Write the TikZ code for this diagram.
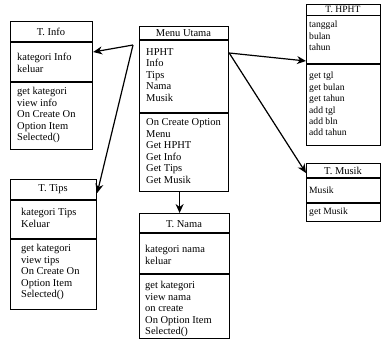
\documentclass[tikz,border=0pt]{standalone}
\usepackage{fontspec}
\setmainfont{Liberation Serif}
\usetikzlibrary{arrows.meta,calc}
\tikzset{
  classbox/.style={draw, line width=1.2pt, inner sep=0pt, anchor=north west},
  txt/.style={inner sep=0pt, anchor=north west, align=left, font=\fontsize{10.5}{11.6}\selectfont},
  stxt/.style={inner sep=0pt, anchor=north west, align=left, font=\fontsize{9.6}{11.4}\selectfont},
  ttl/.style={inner sep=0pt, anchor=center, font=\fontsize{10.5}{11.6}\selectfont},
  sttl/.style={inner sep=0pt, anchor=center, font=\fontsize{9.6}{11.4}\selectfont},
  divline/.style={line width=1.1pt},
  conn/.style={line width=1.2pt, -{Stealth[length=9pt,width=8pt]}}
}
\begin{document}
\begin{tikzpicture}[x=1pt,y=-1pt]
\useasboundingbox (0,0) rectangle (381,340);
\fill[white] (0,0) rectangle (381,340);

% T. Info
\node[classbox, minimum width=82pt, minimum height=128pt] (info) at (10,21) {};
\draw[divline] (10,42) -- (92,42);
\draw[divline] (10,82) -- (92,82);
\node[ttl] (infot) at (51,32) {T. Info};
\node[txt] (infoa) at (17,53) {kategori Info\\keluar};
\node[txt] (infoo) at (17,87) {get kategori\\view info\\On Create On\\Option Item\\Selected()};

% Menu Utama
\node[classbox, minimum width=89pt, minimum height=165pt] (menu) at (139,26) {};
\draw[divline] (139,40) -- (228,40);
\draw[divline] (139,113) -- (228,113);
\node[ttl] (menut) at (183.5,33.3) {Menu Utama};
\node[txt] (menua) at (146,48) {HPHT\\Info\\Tips\\Nama\\Musik};
\node[txt] (menuo) at (146,118.3) {On Create Option\\Menu\\Get HPHT\\Get Info\\Get Tips\\Get Musik};

% T. HPHT
\node[classbox, minimum width=74pt, minimum height=141pt] (hpht) at (306,4) {};
\draw[divline] (306,15.5) -- (380,15.5);
\draw[divline] (306,64) -- (380,64);
\node[sttl] (hphtt) at (343,9.8) {T. HPHT};
\node[stxt] (hphta) at (309,21) {tanggal\\bulan\\tahun};
\node[stxt] (hphto) at (309,72) {get tgl\\get bulan\\get tahun\\add tgl\\add bln\\add tahun};

% T. Musik
\node[classbox, minimum width=74pt, minimum height=58pt] (musik) at (306,163) {};
\draw[divline] (306,178) -- (380,178);
\draw[divline] (306,203) -- (380,203);
\node[ttl] (musikt) at (343,170.5) {T. Musik};
\node[stxt] (musika) at (309,187) {Musik};
\node[stxt] (musiko) at (309,208) {get Musik};

% T. Tips
\node[classbox, minimum width=86pt, minimum height=130pt] (tips) at (10,179) {};
\draw[divline] (10,200) -- (96,200);
\draw[divline] (10,239) -- (96,239);
\node[ttl] (tipst) at (53,189) {T. Tips};
\node[txt] (tipsa) at (21,208) {kategori Tips\\Keluar};
\node[txt] (tipso) at (21,244) {get kategori\\view tips\\On Create On\\Option Item\\Selected()};

% T. Nama
\node[classbox, minimum width=90pt, minimum height=125pt] (nama) at (139,213) {};
\draw[divline] (139,233) -- (229,233);
\draw[divline] (139,274) -- (229,274);
\node[ttl] (namat) at (184,224) {T. Nama};
\node[txt] (namaa) at (145,245) {kategori nama\\keluar};
\node[txt] (namao) at (145,281) {get kategori\\view nama\\on create\\On Option Item\\Selected()};

% connectors
\draw[conn] ($(menu.north west)+(-6,19)$) -- ($(info.north east)+(0,31)$);
\draw[conn] ($(menu.north west)+(-6,19)$) -- ($(tips.north east)+(0,14)$);
\draw[conn] ($(menu.north east)+(0,27)$) -- ($(hpht.north west)+(0,57)$);
\draw[conn] ($(menu.north east)+(0,27)$) -- ($(musik.north west)+(0,10)$);
\draw[conn] ($(menu.south)+(-4.5,0)$) -- ($(nama.north)+(-5,0)$);
\end{tikzpicture}
\end{document}
